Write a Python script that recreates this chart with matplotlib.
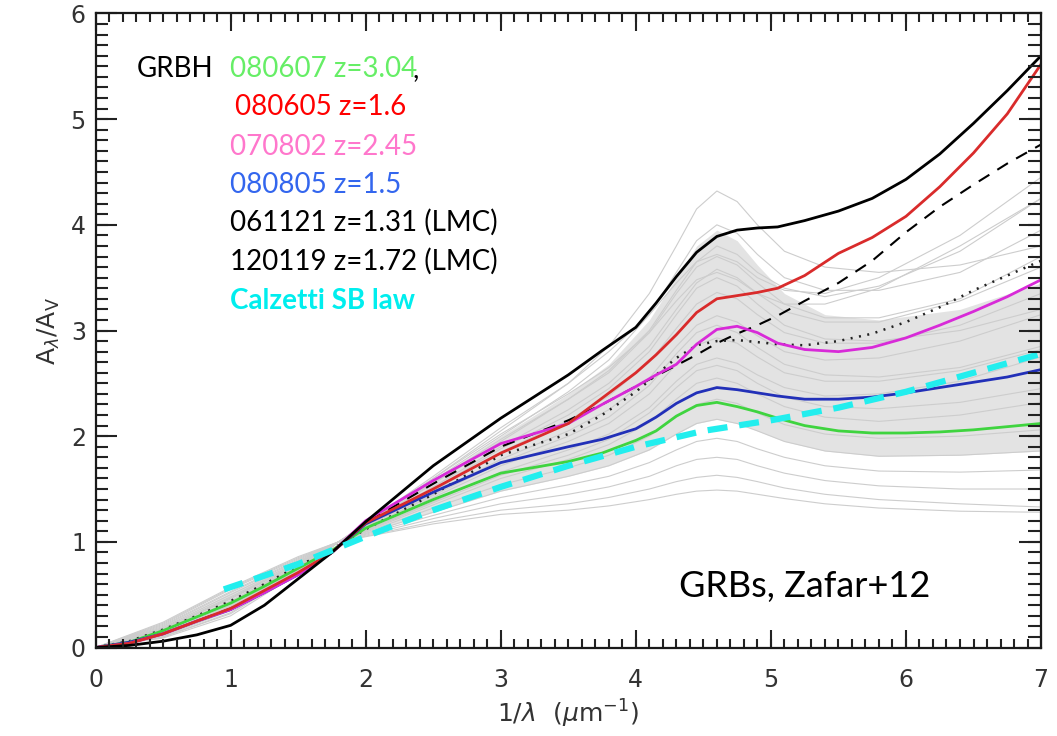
import numpy as np
import matplotlib
matplotlib.use("Agg")
import matplotlib.pyplot as plt

# x grid (1/lambda, micron^-1) for the highlighted curves
xc = [0, 0.25, 0.5, 0.75, 1, 1.25, 1.5, 1.75, 2, 2.5, 3, 3.5, 3.75, 4, 4.15, 4.3, 4.45,
      4.6, 4.75, 4.9, 5.05, 5.25, 5.5, 5.75, 6, 6.25, 6.5, 6.75, 7]

black_solid = [0, 0.02, 0.06, 0.12, 0.21, 0.4, 0.65, 0.9, 1.19, 1.72, 2.17, 2.58, 2.81, 3.03, 3.26, 3.51, 3.74,
               3.89, 3.95, 3.97, 3.98, 4.04, 4.13, 4.25, 4.43, 4.67, 4.96, 5.27, 5.6]
red = [0, 0.04, 0.13, 0.25, 0.37, 0.54, 0.71, 0.9, 1.18, 1.5, 1.84, 2.12, 2.36, 2.6, 2.77, 2.96, 3.17,
       3.3, 3.33, 3.36, 3.4, 3.52, 3.73, 3.88, 4.08, 4.36, 4.68, 5.05, 5.52]
magenta = [0, 0.04, 0.13, 0.25, 0.36, 0.52, 0.69, 0.9, 1.2, 1.58, 1.93, 2.12, 2.3, 2.47, 2.58, 2.68, 2.87,
           3.01, 3.04, 2.98, 2.88, 2.82, 2.8, 2.84, 2.93, 3.05, 3.18, 3.32, 3.48]
blue = [0, 0.05, 0.13, 0.25, 0.36, 0.52, 0.69, 0.9, 1.17, 1.47, 1.75, 1.9, 1.97, 2.07, 2.18, 2.31, 2.41,
        2.46, 2.44, 2.41, 2.38, 2.35, 2.35, 2.37, 2.41, 2.46, 2.51, 2.56, 2.63]
green = [0, 0.05, 0.16, 0.29, 0.42, 0.58, 0.75, 0.92, 1.13, 1.4, 1.65, 1.76, 1.84, 1.96, 2.05, 2.19, 2.29,
         2.32, 2.28, 2.23, 2.17, 2.1, 2.05, 2.03, 2.03, 2.04, 2.06, 2.09, 2.12]
dashed = [0, 0.04, 0.13, 0.25, 0.37, 0.53, 0.7, 0.9, 1.18, 1.55, 1.9, 2.15, 2.3, 2.47, 2.57, 2.67, 2.77,
          2.88, 2.97, 3.05, 3.14, 3.28, 3.45, 3.66, 3.93, 4.17, 4.38, 4.58, 4.76]
dotted = [0, 0.06, 0.17, 0.3, 0.44, 0.6, 0.77, 0.93, 1.12, 1.45, 1.82, 2.02, 2.2, 2.42, 2.58, 2.74, 2.86,
          2.9, 2.91, 2.89, 2.87, 2.86, 2.9, 2.97, 3.08, 3.22, 3.38, 3.52, 3.66]

# Calzetti starburst law
x_calz = [0.95, 1.25, 1.5, 1.75, 2, 2.5, 3, 3.5, 4, 4.5, 5, 5.5, 6, 6.5, 7]
calz = [0.55, 0.68, 0.79, 0.92, 1.05, 1.3, 1.52, 1.72, 1.9, 2.05, 2.15, 2.27, 2.42, 2.6, 2.78]

# background sample of GRB extinction curves (grey)
xg = [0, 0.5, 1, 1.5, 1.8, 2.5, 3, 3.5, 3.8, 4.1, 4.3, 4.45, 4.6, 4.75, 4.9, 5.1, 5.4, 5.8, 6.4, 7]
grey_curves = [
    [0, .10, .33, .72, 1.0, 1.60, 2.05, 2.50, 2.85, 3.35, 3.80, 4.15, 4.32, 4.22, 4.00, 3.75, 3.60, 3.55, 3.62, 3.80],
    [0, .11, .35, .73, 1.0, 1.58, 2.00, 2.42, 2.72, 3.15, 3.55, 3.85, 4.00, 3.92, 3.72, 3.50, 3.38, 3.38, 3.55, 3.95],
    [0, .09, .30, .70, 1.0, 1.62, 2.08, 2.50, 2.80, 3.15, 3.45, 3.65, 3.72, 3.65, 3.50, 3.38, 3.35, 3.50, 3.90, 4.45],
    [0, .12, .37, .74, 1.0, 1.55, 1.95, 2.35, 2.62, 3.00, 3.38, 3.65, 3.80, 3.72, 3.55, 3.40, 3.32, 3.42, 3.75, 4.25],
    [0, .10, .32, .71, 1.0, 1.60, 2.02, 2.40, 2.65, 2.98, 3.28, 3.48, 3.55, 3.48, 3.35, 3.25, 3.25, 3.40, 3.80, 4.25],
    [0, .12, .36, .74, 1.0, 1.56, 1.97, 2.35, 2.60, 2.98, 3.35, 3.60, 3.70, 3.62, 3.45, 3.25, 3.12, 3.12, 3.30, 3.70],
    [0, .13, .38, .75, 1.0, 1.52, 1.90, 2.25, 2.50, 2.85, 3.20, 3.45, 3.58, 3.50, 3.35, 3.18, 3.08, 3.08, 3.28, 3.60],
    [0, .13, .39, .75, 1.0, 1.50, 1.88, 2.20, 2.45, 2.80, 3.15, 3.40, 3.50, 3.42, 3.25, 3.05, 2.92, 2.90, 3.00, 3.20],
    [0, .14, .40, .76, 1.0, 1.48, 1.85, 2.15, 2.38, 2.70, 3.02, 3.25, 3.36, 3.30, 3.15, 2.98, 2.88, 2.88, 3.05, 3.35],
    [0, .15, .42, .77, 1.0, 1.45, 1.78, 2.05, 2.25, 2.55, 2.85, 3.05, 3.14, 3.08, 2.95, 2.80, 2.72, 2.74, 2.90, 3.15],
    [0, .15, .43, .77, 1.0, 1.44, 1.75, 2.00, 2.18, 2.48, 2.78, 2.98, 3.05, 2.98, 2.84, 2.68, 2.58, 2.56, 2.65, 2.85],
    [0, .16, .44, .78, 1.0, 1.42, 1.72, 1.95, 2.12, 2.40, 2.68, 2.86, 2.93, 2.88, 2.75, 2.60, 2.52, 2.52, 2.62, 2.82],
    [0, .17, .46, .79, 1.0, 1.38, 1.66, 1.87, 2.02, 2.27, 2.52, 2.68, 2.74, 2.69, 2.58, 2.46, 2.38, 2.40, 2.52, 2.75],
    [0, .17, .47, .79, 1.0, 1.37, 1.63, 1.82, 1.97, 2.22, 2.46, 2.62, 2.67, 2.62, 2.50, 2.37, 2.28, 2.26, 2.32, 2.45],
    [0, .18, .48, .80, 1.0, 1.35, 1.60, 1.78, 1.92, 2.13, 2.35, 2.50, 2.55, 2.50, 2.40, 2.28, 2.18, 2.14, 2.20, 2.32],
    [0, .19, .50, .81, 1.0, 1.32, 1.54, 1.70, 1.82, 2.00, 2.18, 2.30, 2.35, 2.31, 2.22, 2.11, 2.02, 1.98, 2.00, 2.06],
    [0, .20, .52, .82, 1.0, 1.28, 1.48, 1.62, 1.72, 1.87, 2.02, 2.12, 2.16, 2.12, 2.05, 1.95, 1.86, 1.81, 1.82, 1.86],
    [0, .21, .53, .83, 1.0, 1.25, 1.42, 1.54, 1.62, 1.75, 1.87, 1.95, 1.98, 1.95, 1.88, 1.80, 1.72, 1.67, 1.66, 1.68],
    [0, .22, .55, .84, 1.0, 1.22, 1.36, 1.45, 1.52, 1.62, 1.72, 1.78, 1.80, 1.78, 1.72, 1.65, 1.58, 1.53, 1.50, 1.50],
    [0, .23, .56, .85, 1.0, 1.19, 1.30, 1.36, 1.42, 1.50, 1.57, 1.61, 1.63, 1.61, 1.57, 1.51, 1.45, 1.40, 1.36, 1.33],
    [0, .24, .57, .86, 1.0, 1.17, 1.26, 1.30, 1.34, 1.40, 1.45, 1.48, 1.49, 1.48, 1.45, 1.41, 1.36, 1.32, 1.29, 1.28],
]
# edges of the densest part of the grey bundle
band_hi = [0, .11, .35, .73, 1.0, 1.58, 2.00, 2.40, 2.68, 3.10, 3.50, 3.80, 3.95, 3.85, 3.62, 3.35, 3.15, 3.10, 3.20, 3.45]
band_lo = [0, .20, .52, .82, 1.0, 1.28, 1.48, 1.62, 1.72, 1.87, 2.02, 2.12, 2.16, 2.12, 2.05, 1.95, 1.86, 1.81, 1.82, 1.86]

fig = plt.figure(figsize=(10.57, 7.36), dpi=100)
ax = fig.add_axes([0.0904, 0.1202, 0.8945, 0.8615])

ax.fill_between(xg, band_lo, band_hi, color="#e3e3e3", lw=0, zorder=1)
for g in grey_curves:
    ax.plot(xg, g, color="#cdcdcd", lw=0.8, zorder=1.2)

ax.plot(xc, dashed, color="black", lw=1.5, ls=(0, (6, 4.5)), zorder=2)
ax.plot(xc, dotted, color="#222222", lw=1.8, ls=(0, (0.8, 2.6)), zorder=2)
ax.plot(xc, green, color="#3fd43f", lw=2, zorder=2.1)
ax.plot(xc, blue, color="#2230b8", lw=2, zorder=2.1)
ax.plot(xc, magenta, color="#d82ad8", lw=2, zorder=2.1)
ax.plot(xc, red, color="#d92b2b", lw=2, zorder=2.1)
ax.plot(xc, black_solid, color="black", lw=2, zorder=2.2)
ax.plot(x_calz, calz, color="#22eeee", lw=4.5, ls=(0, (3.2, 1.9)), zorder=2.3)

ax.set_xlabel(r"$1/\lambda\ \ (\mu\mathrm{m}^{-1})$", fontsize=18, color="#333333", labelpad=4)
ax.set_ylabel(r"$\mathrm{A}_\lambda/\mathrm{A}_\mathrm{V}$", fontsize=18, color="#333333", labelpad=6)

W, H = 1057.0, 736.0
fnt = "Lato"
fs = 20
fig.text(137 / W, 1 - 77 / H, "GRBH", fontsize=fs, family=fnt, color="black", va="baseline")
fig.text(230 / W, 1 - 77 / H, "080607 z=3.04", fontsize=fs, family=fnt, color="#66ee66", va="baseline")
fig.text(412 / W, 1 - 77 / H, ",", fontsize=fs, family=fnt, color="black", va="baseline")
fig.text(235 / W, 1 - 115 / H, "080605 z=1.6", fontsize=fs, family=fnt, color="#ff0000", va="baseline")
fig.text(230 / W, 1 - 155 / H, "070802 z=2.45", fontsize=fs, family=fnt, color="#ff77cc", va="baseline")
fig.text(230 / W, 1 - 193 / H, "080805 z=1.5", fontsize=fs, family=fnt, color="#3366ee", va="baseline")
fig.text(230 / W, 1 - 231 / H, "061121 z=1.31 (LMC)", fontsize=fs, family=fnt, color="black", va="baseline")
fig.text(230 / W, 1 - 270 / H, "120119 z=1.72 (LMC)", fontsize=fs, family=fnt, color="black", va="baseline")
fig.text(230 / W, 1 - 309 / H, "Calzetti SB law", fontsize=fs, family=fnt, color="#00eeee",
         weight="bold", va="baseline")
fig.text(679 / W, 1 - 597 / H, "GRBs, Zafar+12", fontsize=26, family=fnt, color="black", va="baseline")

ax.set_xlim(0, 7)
ax.set_ylim(0, 6)
ax.set_xticks(range(0, 8))
ax.set_yticks(range(0, 7))
ax.tick_params(length=0, labelsize=17, labelcolor="#333333")
ax.tick_params(axis="x", pad=15)
ax.tick_params(axis="y", pad=7)

# inward ticks on all four sides, drawn as segments in axes fractions
xmaj = np.arange(0, 7.01, 1.0)
xmin = np.arange(0.1, 7.0, 0.1)
ymaj = np.arange(0, 6.01, 1.0)
ymin = np.arange(0.1, 6.0, 0.1)
tx = ax.get_xaxis_transform()
ty = ax.get_yaxis_transform()
tk = dict(color="#222222", lw=1.5, zorder=5, clip_on=False)
ax.vlines(xmaj, 0, 0.028, transform=tx, **tk)
ax.vlines(xmaj, 1 - 0.028, 1, transform=tx, **tk)
ax.vlines(xmin, 0, 0.013, transform=tx, **tk)
ax.vlines(xmin, 1 - 0.013, 1, transform=tx, **tk)
ax.hlines(ymaj, 0, 0.023, transform=ty, **tk)
ax.hlines(ymaj, 1 - 0.023, 1, transform=ty, **tk)
ax.hlines(ymin, 0, 0.0135, transform=ty, **tk)
ax.hlines(ymin, 1 - 0.0135, 1, transform=ty, **tk)

for s in ax.spines.values():
    s.set_linewidth(1.6)
    s.set_color("#1a1a1a")
    s.set_zorder(6)

fig.savefig("out.png", dpi=100)
